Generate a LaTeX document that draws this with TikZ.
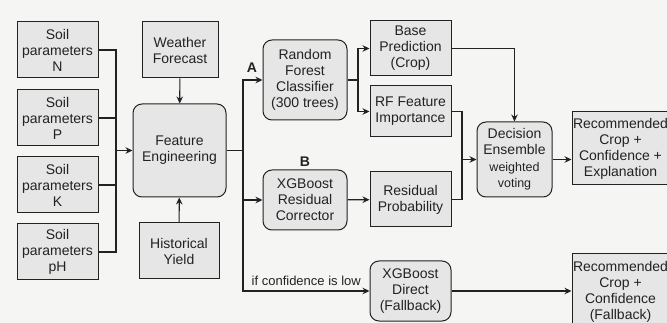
\documentclass[tikz,border=0pt]{standalone}
\usepackage{fontspec}
\setmainfont{Liberation Sans}
\usetikzlibrary{arrows.meta,positioning}
\definecolor{boxfill}{HTML}{E6E6E6}
\definecolor{bgcol}{HTML}{F5F5F3}
\definecolor{inkcol}{HTML}{222222}
\tikzset{
  box/.style={draw=inkcol, line width=1pt, fill=boxfill, align=center, inner sep=0pt,
    font=\fontsize{14}{16}\selectfont, text=inkcol},
  rbox/.style={box, rounded corners=9pt},
  link/.style={draw=inkcol, line width=1.1pt},
  arr/.style={link, -{Stealth[length=7pt,width=6.5pt]}},
  tag/.style={font=\bfseries\fontsize{14}{16}\selectfont, text=inkcol, inner sep=0pt}
}
\begin{document}
\begin{tikzpicture}[x=1pt,y=-1pt]
      \fill[bgcol] (0,0) rectangle (667,323);
      \useasboundingbox (0,0) rectangle (667,323);
      \clip (0,0) rectangle (667,323);
      \node[box, minimum width=81pt, minimum height=56pt] (soilN) at (57.5,50) {Soil\\parameters\\N};
      \node[box, minimum width=81pt, minimum height=56pt] (soilP) at (57.5,118) {Soil\\parameters\\P};
      \node[box, minimum width=81pt, minimum height=56pt] (soilK) at (57.5,185) {Soil\\parameters\\K};
      \node[box, minimum width=81pt, minimum height=56pt] (soilpH) at (57.5,252) {Soil\\parameters\\pH};
      \node[box, minimum width=76pt, minimum height=56pt] (weather) at (180,50) {Weather\\Forecast};
      \node[rbox, minimum width=93pt, minimum height=93pt] (feat) at (179.5,150.5) {Feature\\Engineering};
      \node[box, minimum width=80pt, minimum height=56pt] (hist) at (179,251) {Historical\\Yield};
      \node[rbox, minimum width=84pt, minimum height=80pt] (rf) at (305,80) {Random\\Forest\\Classifier\\(300 trees)};
      \node[box, minimum width=81pt, minimum height=55pt] (base) at (410.5,48.5) {Base\\Prediction\\(Crop)};
      \node[box, minimum width=81pt, minimum height=51pt] (imp) at (410.5,111.5) {RF Feature\\Importance};
      \node[rbox, minimum width=84pt, minimum height=60pt] (xgbres) at (305,200) {XGBoost\\Residual\\Corrector};
      \node[box, minimum width=81pt, minimum height=55pt] (resprob) at (410.5,199.5) {Residual\\Probability};
      \node[rbox, minimum width=81pt, minimum height=60pt] (xgbdir) at (410.5,291) {XGBoost\\Direct\\(Fallback)};
      \node[rbox, minimum width=75pt, minimum height=75pt] (ens) at (514.5,159.5)
        {Decision\\Ensemble\\[1pt]{\fontsize{12.5}{14}\selectfont weighted}\\{\fontsize{12.5}{14}\selectfont voting}};
      \node[box, minimum width=97pt, minimum height=73pt] (rec) at (620.5,148.5) {Recommended\\Crop +\\Confidence +\\Explanation};
      \node[box, minimum width=97pt, minimum height=76pt] (recfb) at (620.5,292) {Recommended\\Crop +\\Confidence\\(Fallback)};
      \node[tag] (labA) at (252,68) {A};
      \node[tag, above=3pt of xgbres] (labB) {B};
      \coordinate (bus) at (116,150.5);
      \coordinate (split) at (243,150.5);
      \coordinate (fork) at (358,80);
      \coordinate (merge) at (462,159.5);
      \begin{scope}[link]
        \draw (soilN.east) -| (bus);
        \draw (soilP.east) -| (bus);
        \draw (soilK.east) -| (bus);
        \draw (soilpH.east) -| (bus);
        \draw (feat.east) -- (split);
        \draw (rf.east) -- (fork);
        \draw (imp.east) -| (merge);
        \draw (resprob.east) -| (merge);
      \end{scope}
      \begin{scope}[arr]
        \draw (bus) -- (feat.west);
        \draw (weather) -- (feat);
        \draw (hist) -- (feat);
        \draw (split) |- (rf.west);
        \draw (split) |- (xgbres.west);
        \draw (split) |- (xgbdir.west)
          node[pos=0.75, above=1pt, font=\fontsize{13}{15}\selectfont, text=inkcol] {if confidence is low};
        \draw (fork) |- (base.west);
        \draw (fork) |- (imp.west);
        \draw (xgbres) -- (resprob);
        \draw (base.east) -| (ens.north);
        \draw (merge) -- (ens.west);
        \draw (ens.east) -- (ens.east -| rec.west);
        \draw (xgbdir.east) -- (xgbdir.east -| recfb.west);
      \end{scope}
    \end{tikzpicture}
\end{document}
